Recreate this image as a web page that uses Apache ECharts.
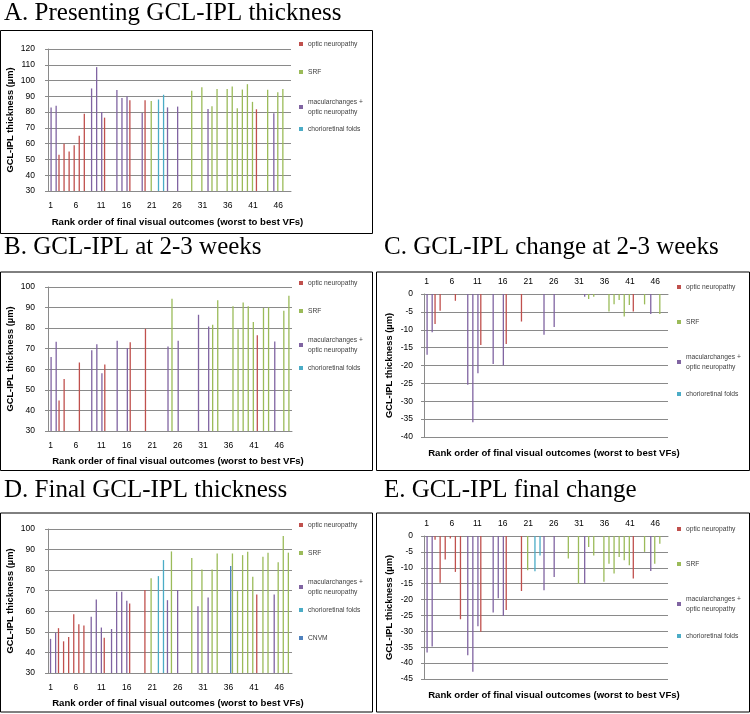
<!DOCTYPE html>
<html><head><meta charset="utf-8">
<script src="https://cdn.jsdelivr.net/npm/echarts@6/dist/echarts.min.js"></script>
<style>html,body{margin:0;padding:0;background:#fff}#c{width:750px;height:714px}</style>
</head><body><div id="c"></div>
<script>
// ---------- DATA ----------
const categories = ['1','2','3','4','5','6','7','8','9','10','11','12','13','14','15','16','17','18','19','20','21','22','23','24','25','26','27','28','29','30','31','32','33','34','35','36','37','38','39','40','41','42','43','44','45','46','47','48'];
const groupCodes = ['O', 'S', 'M', 'C', 'N'];
const groupNames = ['optic neuropathy', 'SRF', 'macularchanges +\noptic neuropathy', 'chorioretinal folds', 'CNVM'];
// patient group by rank (null = no patient data)
const patientGroup = ['M','M','O','O','O','O','O','O','M','M','M','O','M','M','M','M','O',null,'M','O','S','C','C','M','S','M',null,null,'S','M','S','M','S','S',null,'S','S','S','S','S','S','O','S','S','M','S','S','S'];
const finalGroup   = ['M','M','O','O','O','O','O','O','M','M','M','O','M','M','M','M','O',null,'M','O','S','C','C','M','S','M',null,null,'S','M','S','M','S','S',null,'N','S','S','S','S','S','O','S','S','M','S','S','S'];
const presenting  = [83,84,53,60,55,59,65,79,95,108.5,80,76.5,null,94,89,90,87.5,null,79.5,87.5,87,88,91,83,null,83.5,null,null,93.5,null,95.8,82,83.7,94.7,null,94.7,96.2,82.4,94.3,97.7,86.5,81.8,null,94.1,79.2,92.6,94.7,null];
const weeks23     = [66,73.4,44.8,55.3,null,null,63.3,null,69.3,72.2,58.1,62.3,null,73.9,null,70.3,73.2,null,null,79.7,null,null,null,71.1,94.3,73.9,null,null,null,86.5,null,80.8,81.6,93.5,null,null,90.6,79.5,92.5,90.7,83,76.6,89.8,90.1,73.5,null,88.5,95.8];
const change23    = [-17,-10.7,-8.4,-4.7,null,null,-1.9,null,-25.4,-35.9,-22.2,-14.3,null,-19.6,null,-20,-14,null,null,-7.7,null,null,null,-11.4,null,-9.2,null,null,null,null,null,-0.8,-1.4,-0.8,null,null,-4.9,-2.9,-1.7,-6.3,-3.1,-4.9,null,-2.9,-5.6,null,-5.6,null];
const finalThk    = [46.6,49.5,51.8,45.4,47.5,58.6,53.7,53.1,57.3,65.7,52.1,47.1,51.4,69.5,69.5,65.1,63.8,null,null,70.3,76,77.1,84.9,65.4,89.1,70.3,null,null,85.9,62.5,80.3,66.7,80.3,88.1,null,82,88.1,69.8,87.3,89,76.8,68.2,86.5,88.5,68.2,83.8,96.6,88.5];
const finalChange = [-36.7,-34.8,-1.2,-14.7,-7.4,-0.8,-11.3,-26.2,-37.5,-42.7,-28.4,-30.1,null,-24.1,-19.6,-25.2,-23.3,null,null,-17.3,-10.8,-11.1,-6.1,-17.1,null,-12.9,null,null,-7.1,null,-15,-15,-3.5,-6.1,null,-14.4,-8.7,-11.8,-6.6,-7.6,-9.2,-13.4,null,-5,-11,-8.7,-2.4,null];
const panelTitles = ['A. Presenting GCL-IPL thickness','B. GCL-IPL at 2-3 weeks','C. GCL-IPL change at 2-3 weeks','D. Final GCL-IPL thickness','E. GCL-IPL final change'];
const xTitle = 'Rank order of final visual outcomes (worst to best VFs)';
const yTitle = 'GCL-IPL thickness (µm)';

// ---------- STYLE / LAYOUT ----------
const groupColors = {O:'#C0504D', S:'#9BBB59', M:'#8064A2', C:'#4BACC6', N:'#4F81BD'};
const axisFont = 'Liberation Sans';
const gridColor = '#8a8a8a';
const panels = [
  {values:presenting, groups:patientGroup, codes:['O','S','M','C'], grid:{left:48,top:49,width:243,height:142}, min:30,max:120,interval:10, topAxis:false,
   title:{left:4, top:1}, legendX:299, legendY:[44,72,102,129], box:[0.5,30.5,372,203], xGap:26},
  {values:weeks23, groups:patientGroup, codes:['O','S','M','C'], grid:{left:48,top:287,width:244,height:144}, min:30,max:100,interval:10, topAxis:false,
   title:{left:4, top:235}, legendX:299, legendY:[283,311,340,368], box:[0.5,272,372,198.5], xGap:25},
  {values:change23, groups:patientGroup, codes:['O','S','M','C'], grid:{left:424,top:294,width:244,height:143}, min:-40,max:0,interval:5, topAxis:true,
   title:{left:384, top:235}, legendX:677, legendY:[287,322,357,394], box:[376.5,272,373,198.5], xGap:11},
  {values:finalThk, groups:finalGroup, codes:['O','S','M','C','N'], grid:{left:48,top:529,width:244,height:144}, min:30,max:100,interval:10, topAxis:false,
   title:{left:4, top:478}, legendX:299, legendY:[525,553,582,610,638], box:[0.5,513,372,199], xGap:25},
  {values:finalChange, groups:patientGroup, codes:['O','S','M','C'], grid:{left:424,top:536,width:244,height:143}, min:-45,max:0,interval:5, topAxis:true,
   title:{left:384, top:478}, legendX:677, legendY:[529,564,599,636], box:[376.5,513,373,199], xGap:11}
];

const option = {animation:false, backgroundColor:'#fff', title:[], grid:[], xAxis:[], yAxis:[], series:[], legend:[], graphic:[]};
let xIdx = 0;
panels.forEach((p, pi) => {
  option.title.push({text:panelTitles[pi], left:p.title.left, top:p.title.top, padding:0,
    textStyle:{fontFamily:'Liberation Serif', fontWeight:'normal', fontSize:25, color:'#000'}});
  option.grid.push(Object.assign({containLabel:false}, p.grid));
  option.graphic.push({type:'rect', shape:{x:p.box[0], y:p.box[1], width:p.box[2], height:p.box[3]},
    style:{fill:'none', stroke:'#000', lineWidth:1}, silent:true});
  const mainX = xIdx;
  const xNameStyle = {fontWeight:'bold', fontSize:9.6, color:'#000', fontFamily:axisFont, padding:[0,0,0,16]};
  option.xAxis.push({type:'category', gridIndex:pi, data:categories, position:p.topAxis?'top':'bottom',
    axisLine:{lineStyle:{color:gridColor}}, axisTick:{interval:0, length:3, lineStyle:{color:gridColor}},
    axisLabel:{interval:4, fontSize:8.5, color:'#000', fontFamily:axisFont, margin:p.topAxis?8:10},
    splitLine:{show:false},
    name:p.topAxis?'':xTitle, nameLocation:'middle', nameGap:p.xGap, nameTextStyle:xNameStyle});
  xIdx++;
  if (p.topAxis) {
    option.xAxis.push({type:'category', gridIndex:pi, data:categories, position:'bottom',
      axisLine:{show:false}, axisTick:{show:false}, axisLabel:{show:false}, splitLine:{show:false},
      name:xTitle, nameLocation:'middle', nameGap:p.xGap, nameTextStyle:xNameStyle});
    xIdx++;
  }
  option.yAxis.push({type:'value', gridIndex:pi, min:p.min, max:p.max, interval:p.interval,
    axisLine:{show:true, lineStyle:{color:gridColor}}, axisTick:{show:true, length:3, lineStyle:{color:gridColor}},
    axisLabel:{fontSize:8.5, color:'#000', fontFamily:axisFont, margin:p.topAxis?11:13},
    splitLine:{show:true, lineStyle:{color:gridColor, width:1}},
    name:yTitle, nameLocation:'middle', nameGap:p.topAxis?30:33,
    nameTextStyle:{fontWeight:'bold', fontSize:9.3, color:'#000', fontFamily:axisFont}});
  p.codes.forEach((code, ci) => {
    const gi = groupCodes.indexOf(code);
    option.series.push({type:'bar', name:groupNames[gi], xAxisIndex:mainX, yAxisIndex:pi,
      data:p.values.map((v, i) => p.groups[i] === code ? v : null),
      barWidth:1.3, barGap:'-15%', clip:true, silent:true,
      itemStyle:{color:groupColors[code]}});
    option.legend.push({left:p.legendX, top:p.legendY[ci]-5, data:[groupNames[gi]], orient:'vertical',
      itemWidth:4, itemHeight:4, padding:0, selectedMode:false, icon:'rect',
      textStyle:{fontSize:6.7, lineHeight:10, color:'#404040', fontFamily:axisFont}});
  });
});
const chart = echarts.init(document.getElementById('c'), null, {renderer:'canvas'});
chart.setOption(option);
</script>
</body></html>
